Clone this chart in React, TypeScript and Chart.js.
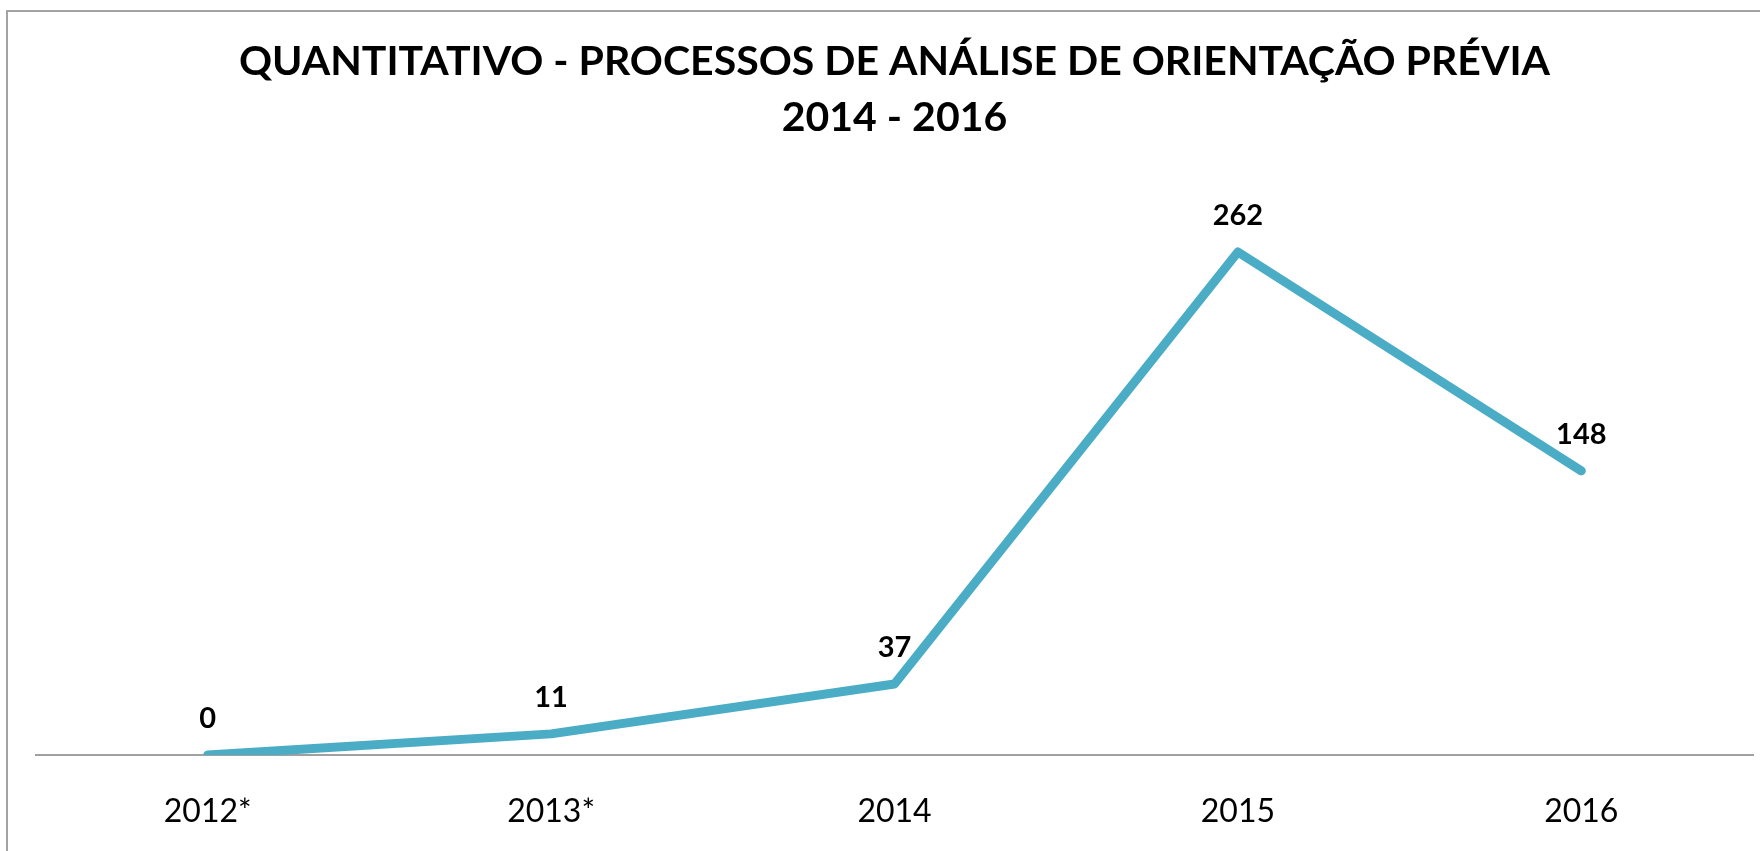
import React, { useEffect, useRef } from "react";
import { Chart, registerables } from "chart.js";

Chart.register(...registerables);

const categories: string[] = ["2012*", "2013*", "2014", "2015", "2016"];
const processos: number[] = [0, 11, 37, 262, 148];
const titleLines: string[] = [
  "QUANTITATIVO - PROCESSOS DE ANÁLISE DE ORIENTAÇÃO PRÉVIA",
  "2014 - 2016",
];
const yMin = 0;
const yMax = 300;

const FONT = "Lato, 'Open Sans', sans-serif";

const dataLabelPlugin = {
  id: "dataLabels",
  afterDatasetsDraw(chart: any) {
    const ctx = chart.ctx;
    const meta = chart.getDatasetMeta(0);
    const values = chart.data.datasets[0].data as number[];
    ctx.save();
    ctx.fillStyle = "#000000";
    ctx.font = `bold 29px ${FONT}`;
    ctx.textAlign = "center";
    ctx.textBaseline = "middle";
    meta.data.forEach((pt: any, i: number) => {
      ctx.fillText(String(values[i]), pt.x, pt.y - 36);
    });
    ctx.restore();
  },
};

export default function App() {
  const canvasRef = useRef<HTMLCanvasElement | null>(null);

  useEffect(() => {
    document.body.style.margin = "0";
    document.body.style.overflow = "hidden";
    if (!canvasRef.current) return;
    const chart = new Chart(canvasRef.current, {
      type: "line",
      data: {
        labels: categories,
        datasets: [
          {
            data: processos,
            borderColor: "#4BACC6",
            backgroundColor: "#4BACC6",
            borderWidth: 9,
            borderCapStyle: "round",
            borderJoinStyle: "round",
            pointRadius: 0,
            pointHoverRadius: 0,
            tension: 0,
            fill: false,
            clip: { left: 20, right: 20, top: 20, bottom: 0 } as any,
          },
        ],
      },
      options: {
        animation: false,
        responsive: false,
        devicePixelRatio: 1,
        events: [],
        layout: { padding: { left: 36, right: 7, top: 0, bottom: 0 } },
        plugins: {
          legend: { display: false },
          tooltip: { enabled: false },
          title: {
            display: true,
            text: titleLines,
            color: "#000000",
            font: { family: FONT, size: 41, weight: "bold", lineHeight: 56 / 41 },
            padding: { top: 34, bottom: 33 },
          },
        },
        scales: {
          x: {
            offset: true,
            grid: { display: false, drawTicks: false },
            border: { display: true, color: "#a0a0a0", width: 2 },
            ticks: {
              color: "#000000",
              font: { family: FONT, size: 32 },
              padding: 37,
            },
            afterFit: (scale: any) => {
              scale.height = 96;
            },
          },
          y: {
            display: false,
            min: yMin,
            max: yMax,
          },
        },
      },
      plugins: [dataLabelPlugin],
    });
    return () => chart.destroy();
  }, []);

  return (
    <div
      style={{
        position: "fixed",
        left: 0,
        top: 0,
        width: 1760,
        height: 851,
        background: "#ffffff",
        overflow: "hidden",
      }}
    >
      <div
        style={{
          position: "absolute",
          left: 6,
          top: 10,
          width: 1760,
          height: 851,
          borderLeft: "2px solid #a3a3a3",
          borderTop: "2px solid #a3a3a3",
        }}
      />
      <canvas
        ref={canvasRef}
        width={1760}
        height={851}
        style={{ position: "absolute", left: 0, top: 0, width: 1760, height: 851 }}
      />
    </div>
  );
}
